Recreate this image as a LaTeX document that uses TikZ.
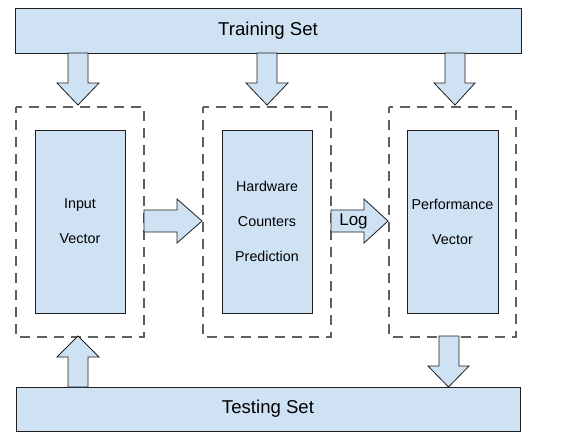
\documentclass[tikz,border=0pt]{standalone}
\usepackage{fontspec}
\setmainfont{Liberation Sans}
\definecolor{boxfill}{HTML}{CFE2F3}
\definecolor{boxline}{HTML}{1F1F1F}
\definecolor{dashline}{HTML}{5F5F5F}
\tikzset{
  setbox/.style={draw=boxline, fill=boxfill, line width=0.8pt, font=\fontsize{18.6}{22}\selectfont},
  innerbox/.style={draw=boxline, fill=boxfill, line width=0.8pt, align=center, font=\fontsize{14.3}{35}\selectfont},
  group/.style={draw=dashline, dash pattern=on 10pt off 7pt, dash phase=4pt, line width=1.1pt},
  blockarrow/.style={draw=boxline, fill=boxfill, line width=0.8pt, line join=miter},
}
\begin{document}
\begin{tikzpicture}[x=1pt,y=-1pt]
\useasboundingbox (0,0) rectangle (565,432);
% sets
\node[setbox, minimum width=506pt, minimum height=45pt, inner sep=0pt] (train) at (268,30.5) {Training Set};
\node[setbox, minimum width=504pt, minimum height=44pt, inner sep=0pt] (test) at (268,409) {Testing Set};
% groups
\draw[group] (16,107) rectangle (144,337);
\draw[group] (203,107) rectangle (331,337);
\draw[group] (389,107) rectangle (516,337);
% inner boxes
\node[innerbox, minimum width=90pt, minimum height=183pt, inner sep=0pt] (input) at (80,221.5) {Input\\Vector};
\node[innerbox, minimum width=90pt, minimum height=183pt, inner sep=0pt] (hw) at (267,221.5) {Hardware\\Counters\\Prediction};
\node[innerbox, minimum width=91pt, minimum height=183pt, inner sep=0pt] (perf) at (452.5,221.5) {Performance\\Vector};
% down arrows from training set
\draw[blockarrow] (68,53) -- (88,53) -- (88,83) -- (99,83) -- (78,105) -- (57,83) -- (68,83) -- cycle;
\draw[blockarrow] (257,53) -- (277,53) -- (277,83) -- (288,83) -- (267,105) -- (246,83) -- (257,83) -- cycle;
\draw[blockarrow] (445,53) -- (465,53) -- (465,83) -- (475,83) -- (455,105) -- (434,83) -- (445,83) -- cycle;
% horizontal arrows
\draw[blockarrow] (144,210) -- (177,210) -- (177,199) -- (202,221) -- (177,243) -- (177,232) -- (144,232) -- cycle;
\draw[blockarrow] (331,210) -- (364,210) -- (364,199) -- (388,221) -- (364,243) -- (364,232) -- (331,232) -- cycle;
\node[font=\fontsize{17}{20}\selectfont, inner sep=0pt] (log) at (353.5,221) {Log};
% up arrow from testing set
\draw[blockarrow] (68,387) -- (88,387) -- (88,357) -- (99,357) -- (78,336) -- (57,357) -- (68,357) -- cycle;
% down arrow to testing set
\draw[blockarrow] (439,336) -- (459,336) -- (459,366) -- (469,366) -- (448.5,387) -- (428,366) -- (439,366) -- cycle;
\end{tikzpicture}
\end{document}
